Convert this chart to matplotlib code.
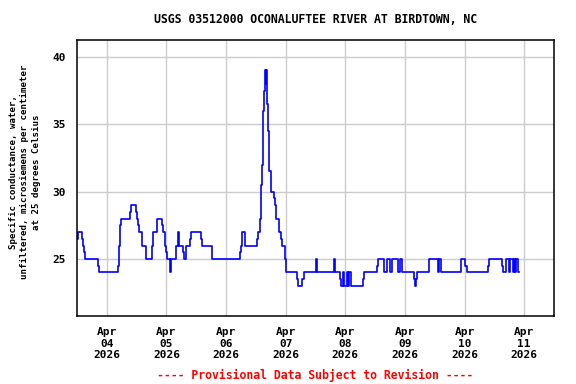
import matplotlib
matplotlib.use("Agg")
import matplotlib.pyplot as plt
import pandas as pd

# Specific conductance readings, change points (hours after Apr 04 2026 00:00)
hours = [-12.0, -11.7, -10.0, -9.5, -9.1, -8.7, -3.5, -3.1, 4.5, 4.9, 5.2, 5.6,
         9.4, 9.8, 11.9, 12.3, 12.7, 13.0, 14.2, 15.6, 15.9, 18.0, 18.2, 18.6,
         20.2, 22.1, 22.6, 23.3, 23.8, 24.2, 25.3, 26.0, 27.7, 28.7, 29.2, 30.7,
         31.1, 31.8, 33.6, 34.0, 38.1, 38.4, 42.5, 53.5, 53.9, 54.6, 55.5, 60.4,
         60.8, 61.6, 62.0, 62.4, 62.8, 63.2, 63.6, 63.9, 64.1, 64.3, 64.7, 65.1,
         65.9, 67.1, 67.5, 68.1, 69.4, 70.2, 70.6, 71.8, 72.2, 76.5, 77.1, 78.7,
         79.2, 84.3, 84.7, 91.5, 91.9, 93.9, 94.3, 95.0, 95.4, 96.8, 97.0, 97.4,
         98.2, 103.0, 103.4, 108.7, 109.1, 111.5, 112.7, 113.8, 114.6, 117.4,
         117.9, 118.7, 123.5, 123.9, 124.6, 125.0, 129.6, 133.2, 133.6, 134.5,
         142.7, 144.3, 144.8, 153.3, 153.8, 159.1, 159.6, 160.7, 161.7, 162.4,
         163.3, 163.7, 164.4, 164.8, 165.4, 165.8]
values = [26.5, 27, 26.5, 26, 25.5, 25, 24.5, 24, 24.5, 26, 27.5, 28,
          28.5, 29, 28.5, 28, 27.5, 27, 26, 25.5, 25, 25.5, 26, 27,
          28, 27.5, 27, 26, 25.5, 25, 24, 25, 26, 27, 26, 25.5,
          25, 26, 26.5, 27, 26.5, 26, 25, 25.5, 26, 27, 26, 26.5,
          27, 28, 30.5, 32, 36, 37.5, 39, 38, 39, 36.5, 34.5, 31.5,
          30, 29.5, 29, 28, 27, 26.5, 26, 25, 24, 23.5, 23, 23.5,
          24, 25, 24, 25, 24, 23.5, 23, 24, 23, 24, 23, 24,
          23, 23.5, 24, 24.5, 25, 24, 25, 24, 25, 24,
          25, 24, 23.5, 23, 23.5, 24, 25, 24, 25, 24,
          25, 24.5, 24, 24.5, 25, 24.5, 24, 25, 24, 25,
          24, 25, 24, 25, 24, 24]

tick_days = ["04", "05", "06", "07", "08", "09", "10", "11"]
y_ticks = [25, 30, 35, 40]

base = pd.Timestamp("2026-04-04 00:00")
times = [base + pd.Timedelta(hours=h) for h in hours]
tick_times = [pd.Timestamp(f"2026-04-{d}") for d in tick_days]
tick_labels = [f"Apr\n{d}\n2026" for d in tick_days]

font = "DejaVu Sans Mono"

fig = plt.figure(figsize=(5.76, 3.84), dpi=100)
ax = fig.add_axes([77 / 576, 1 - 316 / 384, 477 / 576, 276 / 384])

ax.plot(times, values, color="#0000ff", linewidth=1.2, drawstyle="steps-post")

ax.set_xlim(base - pd.Timedelta(hours=12), base + pd.Timedelta(hours=180))
ax.set_ylim(20.77, 41.26)
ax.set_xticks(tick_times)
ax.set_xticklabels(tick_labels, fontfamily=font, fontweight="bold", fontsize=8,
                   linespacing=1.2)
ax.set_yticks(y_ticks)
ax.set_yticklabels([str(v) for v in y_ticks], fontfamily=font,
                   fontweight="bold", fontsize=8)
ax.tick_params(axis="x", length=0, pad=8)
ax.tick_params(axis="y", length=0, pad=8)
ax.grid(True, color="#cccccc", linewidth=1.0)
ax.set_axisbelow(True)
for sp in ax.spines.values():
    sp.set_color("black")
    sp.set_linewidth(1.1)

ax.set_title("USGS 03512000 OCONALUFTEE RIVER AT BIRDTOWN, NC",
             fontfamily=font, fontweight="bold", fontsize=8.3, pad=12)

fig.text(25 / 576, 1 - 172 / 384,
         "Specific conductance, water,\nunfiltered, microsiemens per centimeter\nat 25 degrees Celsius",
         rotation=90, ha="center", va="center", multialignment="center",
         fontfamily=font, fontweight="bold", fontsize=6.6, linespacing=1.3)

fig.text(315 / 576, 1 - 375 / 384, "---- Provisional Data Subject to Revision ----",
         ha="center", va="center", color="red",
         fontfamily=font, fontweight="bold", fontsize=8.3)

fig.savefig("out.png", dpi=100)
